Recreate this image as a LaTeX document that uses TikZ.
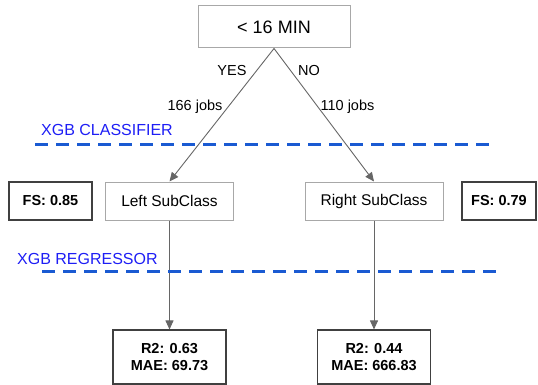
\documentclass[tikz,border=0pt]{standalone}
\usepackage{fontspec}
\setmainfont{Liberation Sans}
\usetikzlibrary{arrows.meta}
\definecolor{boxgray}{HTML}{A8A8A8}
\definecolor{linegray}{HTML}{666666}
\definecolor{dashblue}{HTML}{1A5AD2}
\definecolor{txtblue}{HTML}{1E1EF5}
\begin{document}
\begin{tikzpicture}[x=1pt,y=-1pt,
  graybox/.style={draw=boxgray,line width=1pt,inner sep=0pt,align=center,font=\fontsize{15.5}{18}\selectfont},
  blackbox/.style={draw=black!75,line width=1.1pt,inner sep=0pt,align=center,font=\bfseries\fontsize{14.5}{17}\selectfont},
  conn/.style={draw=linegray,line width=0.9pt,-{Triangle[length=9pt,width=8pt]},color=linegray},
  sep/.style={draw=dashblue,line width=3pt,dash pattern=on 13pt off 8pt},
  lbl/.style={font=\fontsize{14.5}{17}\selectfont,inner sep=0pt},
  bluelbl/.style={font=\fontsize{16}{19}\selectfont,text=txtblue,inner sep=0pt,anchor=west}]
\useasboundingbox (0,0) rectangle (538,385);
\node[graybox,minimum width=152pt,minimum height=42pt,font=\fontsize{18}{20}\selectfont] (top) at (274,27) {< 16 MIN};
\node[graybox,minimum width=128pt,minimum height=38pt] (left) at (169.5,201) {Left SubClass};
\node[graybox,minimum width=138pt,minimum height=38pt] (right) at (374,201) {Right SubClass};
\node[blackbox,minimum width=83pt,minimum height=38pt] (fsl) at (50.5,201) {FS: 0.85};
\node[blackbox,minimum width=74pt,minimum height=38pt] (fsr) at (499,201) {FS: 0.79};
\node[blackbox,minimum width=113pt,minimum height=54pt] (bl) at (169.5,357) {R2: 0.63\\MAE: 69.73};
\node[blackbox,minimum width=113pt,minimum height=54pt] (br) at (374,357) {R2: 0.44\\MAE: 666.83};
\coordinate (apex) at (top.south);
\draw[conn] (apex) -- (left.north);
\draw[conn] (apex) -- (right.north);
\draw[conn] (left.south) -- (bl.north);
\draw[conn] (right.south) -- (br.north);
\node[lbl] (yes) at (232,71) {YES};
\node[lbl] (no) at (309,71) {NO};
\node[lbl] (j1) at (195,107) {166 jobs};
\node[lbl] (j2) at (347.5,107) {110 jobs};
\coordinate (c1a) at (35,145);
\coordinate (c1b) at (491,145);
\draw[sep] (c1a) -- (c1b);
\coordinate (c2a) at (42,271);
\coordinate (c2b) at (498,271);
\draw[sep] (c2a) -- (c2b);
\node[bluelbl] (xc) at (41,130) {XGB CLASSIFIER};
\node[bluelbl] (xr) at (17,259) {XGB REGRESSOR};
\end{tikzpicture}
\end{document}
